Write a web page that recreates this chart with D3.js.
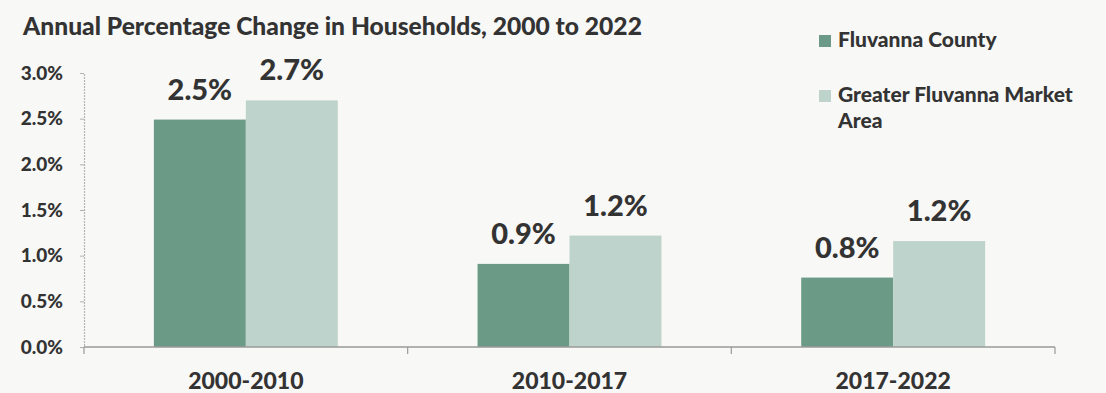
<!DOCTYPE html>
<html>
<head>
<meta charset="utf-8">
<script src="https://cdn.jsdelivr.net/npm/d3@7"></script>
<style>
  html, body { margin: 0; padding: 0; background: #f8f8f6; }
  svg { display: block; font-family: "Lato", "Open Sans", sans-serif; }
</style>
</head>
<body>
<svg id="chart" width="1106" height="393"></svg>
<script>
// Household growth, annual rate (%)
const periods = ["2000-2010", "2010-2017", "2017-2022"];
const countyValues = [2.49, 0.91, 0.76];
const marketValues = [2.70, 1.22, 1.16];
const seriesNames = ["Fluvanna County", "Greater Fluvanna Market Area"];
const yTicks = [0, 0.5, 1.0, 1.5, 2.0, 2.5, 3.0];
const titleText = "Annual Percentage Change in Households, 2000 to 2022";

const colors = ["#6b9b86", "#bed3cb"];
const textColor = "#333333";
const heavy = 900;

const svg = d3.select("#chart");
const margin = { left: 84, right: 51, top: 73, bottom: 46 };
const W = 1106, H = 393;

const x = d3.scaleBand().domain(periods).range([margin.left, W - margin.right]).paddingInner(0).paddingOuter(0);
const sub = d3.scaleBand().domain([0, 1]).range([0, x.bandwidth()]).paddingInner(0).paddingOuter(0.76);
const y = d3.scaleLinear().domain([0, 3]).range([H - margin.bottom, margin.top]);

const rows = periods.map((p, i) => ({ period: p, values: [countyValues[i], marketValues[i]] }));

// Title
svg.append("text")
  .attr("x", 23).attr("y", 35)
  .attr("font-size", 24.6).attr("font-weight", heavy)
  .attr("fill", textColor)
  .text(titleText);

// Y axis
const yAxis = svg.append("g")
  .attr("transform", `translate(${margin.left},0)`)
  .call(d3.axisLeft(y).tickValues(yTicks).tickFormat(d => d.toFixed(1) + "%").tickSize(4).tickPadding(17));
yAxis.select(".domain").attr("stroke", "#b5b5b5").attr("stroke-width", 1.2).attr("stroke-dasharray", "2,1");
yAxis.selectAll(".tick line").attr("stroke", "#b0b0b0");
yAxis.selectAll(".tick text")
  .attr("font-size", 19).attr("font-weight", heavy).attr("fill", textColor)
  .attr("font-family", "Lato, sans-serif");

// Bars
const groups = svg.selectAll("g.period").data(rows).join("g")
  .attr("class", "period")
  .attr("transform", d => `translate(${x(d.period)},0)`);

groups.selectAll("rect").data(d => d.values).join("rect")
  .attr("x", (d, i) => sub(i))
  .attr("width", sub.bandwidth())
  .attr("y", d => y(d))
  .attr("height", d => y(0) - y(d))
  .attr("fill", (d, i) => colors[i]);

groups.selectAll("text.val").data(d => d.values).join("text")
  .attr("class", "val")
  .attr("x", (d, i) => sub(i) + sub.bandwidth() / 2)
  .attr("y", d => y(d) - 20)
  .attr("text-anchor", "middle")
  .attr("font-size", 29).attr("font-weight", heavy)
  .attr("fill", textColor)
  .text(d => d.toFixed(1) + "%");

// X axis
const xAxis = svg.append("g")
  .attr("transform", `translate(0,${y(0)})`)
  .call(d3.axisBottom(x).tickSize(0).tickPadding(0));
xAxis.select(".domain").remove();
xAxis.append("line")
  .attr("x1", margin.left).attr("x2", W - margin.right)
  .attr("stroke", "#9a9a9a").attr("stroke-width", 1.5);
xAxis.selectAll(".bound").data(periods.map(p => x(p) + x.bandwidth()).concat([margin.left])).join("line")
  .attr("class", "bound")
  .attr("x1", d => d).attr("x2", d => d)
  .attr("y1", 0).attr("y2", 7)
  .attr("stroke", "#9a9a9a").attr("stroke-width", 1.2);
xAxis.selectAll(".tick text")
  .attr("font-size", 23).attr("font-weight", heavy).attr("fill", textColor)
  .attr("font-family", "Lato, sans-serif")
  .attr("y", 42).attr("dy", 0);

// Legend
const legend = svg.append("g").attr("transform", "translate(819,0)");
const legendRows = [
  { lines: ["Fluvanna County"], y: 47 },
  { lines: ["Greater Fluvanna Market", "Area"], y: 102 }
];
legendRows.forEach((r, i) => {
  legend.append("rect")
    .attr("x", 0).attr("y", r.y - 12).attr("width", 12).attr("height", 12)
    .attr("fill", colors[i]);
  const t = legend.append("text")
    .attr("x", 19).attr("y", r.y)
    .attr("font-size", 21).attr("font-weight", heavy).attr("fill", textColor)
    .datum(seriesNames[i]);
  r.lines.forEach((l, j) => {
    t.append("tspan").attr("x", 19).attr("dy", j === 0 ? 0 : 26).text(l);
  });
});
</script>
</body>
</html>
